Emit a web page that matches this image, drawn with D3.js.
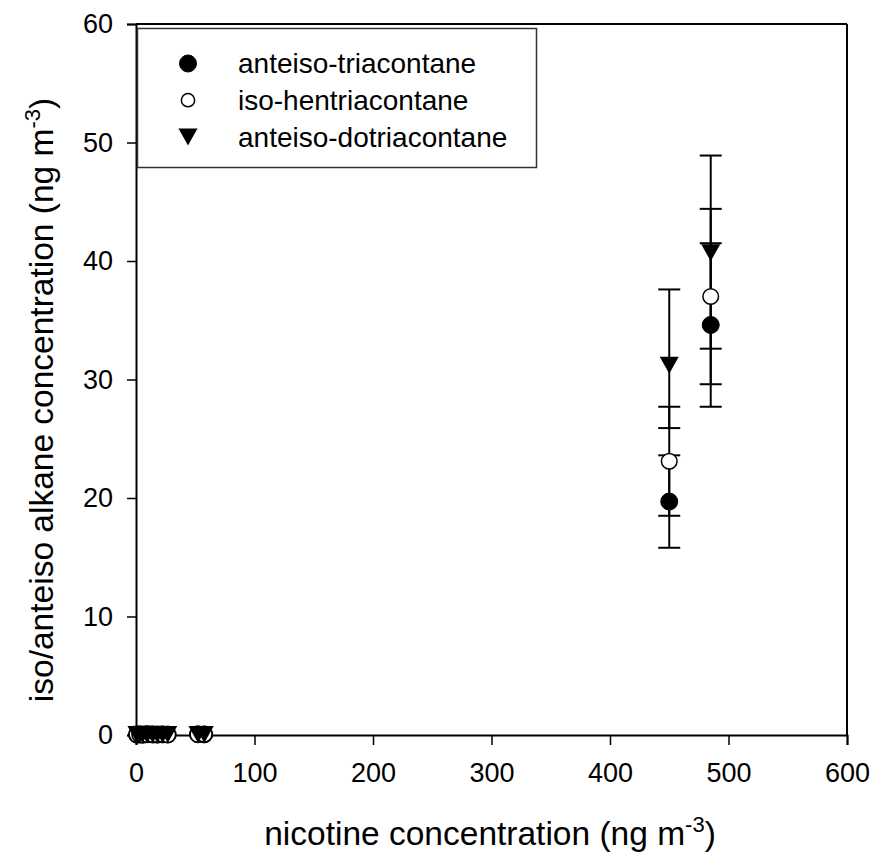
<!DOCTYPE html>
<html><head><meta charset="utf-8">
<script src="https://cdn.jsdelivr.net/npm/d3@7"></script>
<style>body{margin:0;background:#fff}svg{display:block}text{font-family:"Liberation Sans",Arial,sans-serif;fill:#000}</style>
</head><body>
<script>
// ---- data ----
const nicotine = [0.8, 3.1, 5.6, 9.4, 14.2, 18.0, 22.5, 26.8, 52.3, 57.6, 450, 485];
const anteisoTriacontane = [0.03, 0.05, 0.02, 0.06, 0.04, 0.03, 0.05, 0.04, 0.06, 0.05, 19.7, 34.6];
const anteisoTriacontaneErr = [0, 0, 0, 0, 0, 0, 0, 0, 0, 0, 3.9, 6.9];
const isoHentriacontane = [0.04, 0.06, 0.03, 0.05, 0.05, 0.04, 0.06, 0.03, 0.05, 0.06, 23.1, 37.0];
const isoHentriacontaneErr = [0, 0, 0, 0, 0, 0, 0, 0, 0, 0, 4.6, 7.4];
const anteisoDotriacontane = [0.05, 0.04, 0.06, 0.03, 0.06, 0.05, 0.04, 0.05, 0.04, 0.05, 31.2, 40.7];
const anteisoDotriacontaneErrUp = [0, 0, 0, 0, 0, 0, 0, 0, 0, 0, 6.4, 8.2];
const anteisoDotriacontaneErrDown = [0, 0, 0, 0, 0, 0, 0, 0, 0, 0, 5.3, 8.1];
const seriesNames = ["anteiso-triacontane", "iso-hentriacontane", "anteiso-dotriacontane"];
const xTicks = [0, 100, 200, 300, 400, 500, 600];
const yTicks = [0, 10, 20, 30, 40, 50, 60];

const W = 875, H = 861;
const L = 136, R = 847, T = 24, B = 735;
const svg = d3.select("body").append("svg").attr("width", W).attr("height", H);
const x = d3.scaleLinear().domain([0, 600]).range([L, R]);
const y = d3.scaleLinear().domain([0, 60]).range([B, T]);

const series = [
  {name: seriesNames[0], vals: anteisoTriacontane, up: anteisoTriacontaneErr, dn: anteisoTriacontaneErr, sym: "filled"},
  {name: seriesNames[1], vals: isoHentriacontane, up: isoHentriacontaneErr, dn: isoHentriacontaneErr, sym: "open"},
  {name: seriesNames[2], vals: anteisoDotriacontane, up: anteisoDotriacontaneErrUp, dn: anteisoDotriacontaneErrDown, sym: "tri"}
];

// axes
const xAxis = svg.append("g").attr("transform", `translate(0,${B})`)
  .call(d3.axisBottom(x).tickValues(xTicks).tickSize(10).tickPadding(18).tickFormat(d3.format("d")));
const yAxis = svg.append("g").attr("transform", `translate(${L},0)`)
  .call(d3.axisLeft(y).tickValues(yTicks).tickSize(9).tickPadding(14).tickFormat(d3.format("d")));
[xAxis, yAxis].forEach(g => {
  g.select(".domain").attr("stroke", "#000").attr("stroke-width", 2);
  g.selectAll(".tick line").attr("stroke", "#000").attr("stroke-width", 1.5);
  g.selectAll(".tick text").style("font-size", "27px").style("font-family", "'Liberation Sans',Arial,sans-serif");
});
// box top/right
svg.append("line").attr("x1", L).attr("x2", R).attr("y1", T).attr("y2", T).attr("stroke", "#000").attr("stroke-width", 2);
svg.append("line").attr("x1", R).attr("x2", R).attr("y1", T).attr("y2", B).attr("stroke", "#000").attr("stroke-width", 2);

// axis titles
const xt = svg.append("text").attr("x", 490).attr("y", 845).attr("text-anchor", "middle").style("font-size", "33.5px");
xt.append("tspan").text("nicotine concentration (ng m");
xt.append("tspan").attr("dy", -13).style("font-size", "22px").text("-3");
xt.append("tspan").attr("dy", 13).text(")");
const yt = svg.append("text").attr("transform", "translate(53,400) rotate(-90)").attr("text-anchor", "middle").style("font-size", "33.5px");
yt.append("tspan").text("iso/anteiso alkane concentration (ng m");
yt.append("tspan").attr("dy", -13).style("font-size", "22px").text("-3");
yt.append("tspan").attr("dy", 13).text(")");

function drawSym(g, sym, cx, cy, s) {
  if (sym === "tri") {
    const w = 9.5 * s, h = 17 * s;
    g.append("path").attr("d", `M${cx - w},${cy - h / 2}L${cx + w},${cy - h / 2}L${cx},${cy + h / 2}Z`).attr("fill", "#000");
  } else {
    g.append("circle").attr("cx", cx).attr("cy", cy).attr("r", (sym === "open" ? 7.8 : 8.5) * s)
      .attr("fill", sym === "open" ? "#fff" : "#000").attr("stroke", "#000").attr("stroke-width", sym === "open" ? 1.5 : 1);
  }
}

// error bars
const eg = svg.append("g");
series.forEach(s => {
  nicotine.forEach((n, i) => {
    if (s.up[i] > 0) {
      const px = x(n), y1 = y(s.vals[i] + s.up[i]), y2 = y(s.vals[i] - s.dn[i]);
      eg.append("line").attr("x1", px).attr("x2", px).attr("y1", y1).attr("y2", y2).attr("stroke", "#000").attr("stroke-width", 2);
      [y1, y2].forEach(yy => eg.append("line").attr("x1", px - 11).attr("x2", px + 11).attr("y1", yy).attr("y2", yy).attr("stroke", "#000").attr("stroke-width", 2));
    }
  });
});
// markers
const mg = svg.append("g");
series.forEach(s => {
  nicotine.forEach((n, i) => drawSym(mg, s.sym, x(n), y(s.vals[i]), 1));
});

// legend
const lg = svg.append("g");
lg.append("rect").attr("x", 137.5).attr("y", 28.5).attr("width", 399).attr("height", 139).attr("fill", "#fff").attr("stroke", "#333").attr("stroke-width", 1.5);
series.forEach((s, i) => {
  const cy = 63.5 + i * 36.7;
  drawSym(lg, s.sym, 188, cy, s.sym === "open" ? 0.85 : 1);
  lg.append("text").attr("x", 238).attr("y", cy).attr("dy", "0.35em").style("font-size", "28px").text(s.name);
});
</script>
</body></html>
